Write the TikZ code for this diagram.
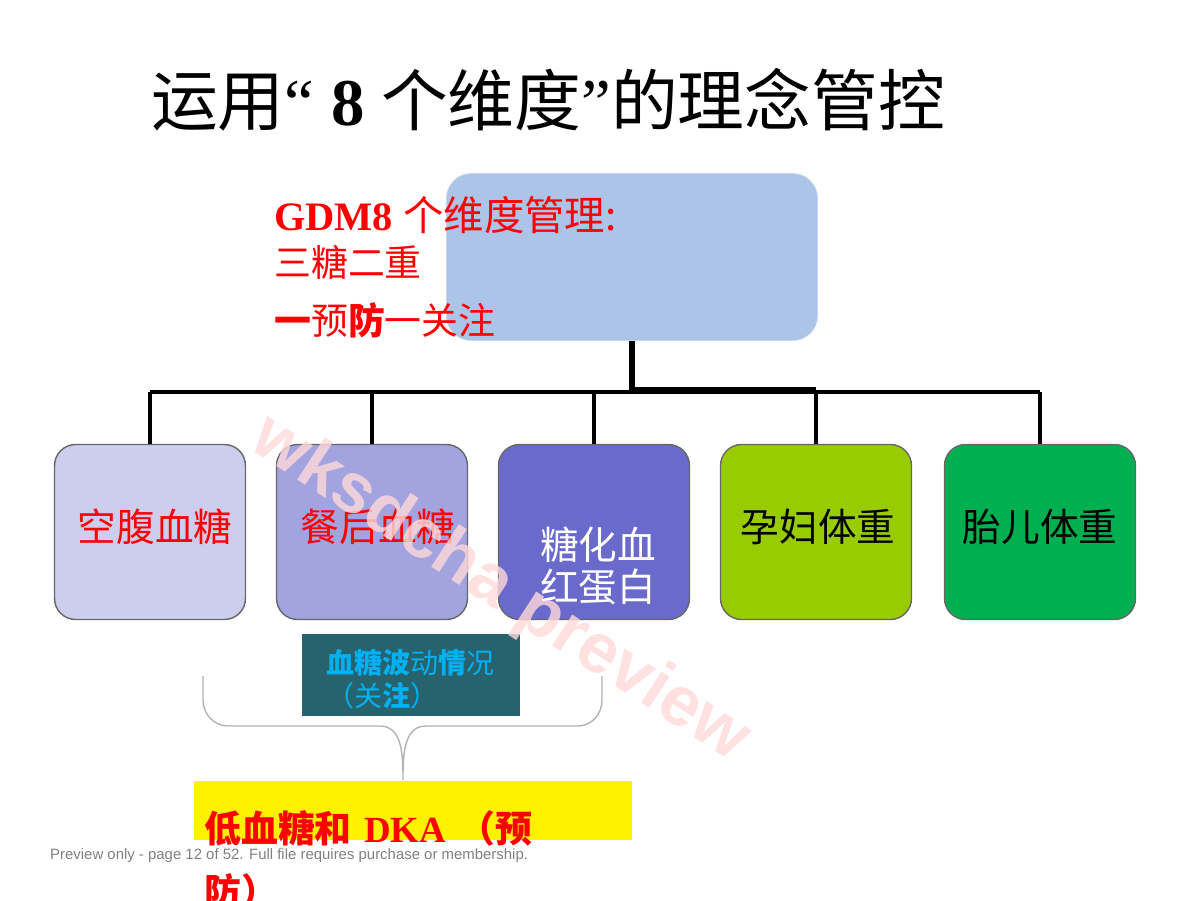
\documentclass[tikz,border=0pt]{standalone}
\usepackage{fontspec}
\setmainfont{Liberation Serif}
\setsansfont{Liberation Sans}
\newfontfamily\cjk{Noto Sans CJK SC}
\usetikzlibrary{positioning}
\definecolor{topblue}{HTML}{ABC4E8}
\definecolor{boxA}{HTML}{CDCDEE}
\definecolor{boxB}{HTML}{A3A3E0}
\definecolor{boxC}{HTML}{6A6ACC}
\definecolor{boxD}{HTML}{99CC00}
\definecolor{boxE}{HTML}{00B050}
\definecolor{teal}{HTML}{27636E}
\definecolor{wave}{HTML}{00B0F0}
\tikzset{
  dim/.style={draw=gray!80!black, thick, rounded corners=12pt, minimum height=3.5cm, minimum width=3.82cm},
  dimtxt/.style={font=\cjk\fontsize{22}{26}\selectfont},
  link/.style={line width=2pt}
}
\begin{document}
\begin{tikzpicture}[x=0.02cm,y=-0.02cm]
 \useasboundingbox (0,0) rectangle (1200,900);
 % title
 \node (title) at (548,100) {\cjk\fontsize{38}{44}\selectfont 运用\rmfamily“ \textbf{8} \cjk 个维度\rmfamily”\cjk 的理念管控};
 % top box
 \node[draw=topblue!70!white, fill=topblue, rounded corners=14pt, minimum width=7.42cm, minimum height=3.34cm] (top) at (632,257) {};
 \node[anchor=west, red, font=\fontsize{23}{26}\selectfont] (gdm) at (268,215) {\textbf{GDM8} {\cjk 个维度管理:}};
 \node[anchor=west, red, font=\cjk\fontsize{21}{24}\selectfont] (tang) at (268,262) {三糖二重};
 \node[anchor=west, red, font=\cjk\fontsize{21}{24}\selectfont] (yufang) at (268,320) {\textbf{一}预\textbf{防}一关注};
 % five dimensions
 \foreach \x/\fc/\name in {150/boxA/fbg, 372/boxB/pbg, 594/boxC/hba, 816/boxD/mwt, 1040/boxE/fwt} {
   \node[dim, fill=\fc] (\name) at (\x,532) {};
   \coordinate (\name t) at (\x,392);
   \draw[link] (\name t) -- (\name.north);
 }
 \node[red, dimtxt] at (155,527) {空腹血糖};
 \node[red, dimtxt] at (378,527) {餐后血糖};
 \node[white, dimtxt, align=center] at (598,566) {糖化血\\[-2pt]红蛋白};
 \node[black, dimtxt] at (818,527) {孕妇体重};
 \node[black, dimtxt] at (1040,527) {胎儿体重};
 % connectors
 \coordinate (hub) at (632,390);
 \draw[line width=3pt] (top.south -| hub) -- (hub);
 \draw[line width=3pt] (hub) -- (816,390);
 \draw[link] (fbgt) -- (fwtt);
 % wave box
 \node[fill=teal, minimum width=4.36cm, minimum height=1.64cm] (wavebox) at (411,675) {};
 \node[anchor=west, wave, font=\cjk\fontsize{16}{19}\selectfont, align=left] at (320,679) {\textbf{血糖波}动\textbf{情}况\\（关\textbf{注}）};
 % brace
 \coordinate (bl) at (203,676);
 \coordinate (br) at (602,676);
 \coordinate (tip) at (403,780);
 \draw[gray!60, thick] (bl) -- (203,700) to[out=-90,in=180] (228,726) -- (380,726)
   to[out=0,in=90] (tip) to[out=90,in=180] (426,726) -- (578,726) to[out=0,in=-90] (602,700) -- (br);
 % yellow box
 \node[fill=yellow, minimum width=8.76cm, minimum height=1.18cm] (hypo) at (413,810) {};
 \node[anchor=north west, red, font=\fontsize{21}{36}\selectfont, align=left, text width=8.4cm] at (198,804) {\textbf{\cjk 低血糖和} \textbf{DKA} \textbf{\cjk （预}\\\textbf{\cjk 防）}};
 % footer and watermark
 \node[anchor=west, gray, font=\sffamily\fontsize{8.5}{10}\selectfont] at (44,856) {Preview only - page 12 of 52. Full file requires purchase or membership.};
 \node[red!15, rotate=-33, font=\sffamily\bfseries\fontsize{40}{44}\selectfont, opacity=0.8] at (500,590) {wksdcha preview};
\end{tikzpicture}
\end{document}
